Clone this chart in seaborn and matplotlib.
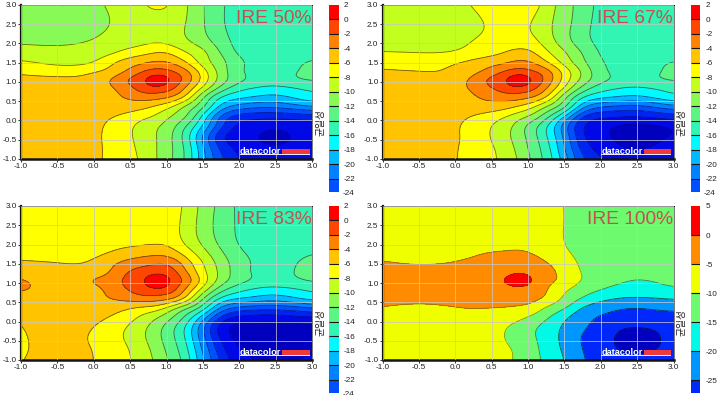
import numpy as np
import matplotlib
matplotlib.use("Agg")
import matplotlib.pyplot as plt
from matplotlib.patches import Rectangle
import seaborn as sns

x_nodes = [-1, -0.5, 0, 0.25, 0.5, 0.7, 0.87, 1.05, 1.25, 1.5, 1.75, 2, 2.25, 2.45, 2.75, 3]
y_nodes = [3, 2.5, 2, 1.75, 1.5, 1.25, 1.05, 0.85, 0.6, 0.35, 0.1, -0.15, -0.4, -0.7, -1]

z_50 = [
    [-10.7, -10.8, -10.3, -9.7, -8.8, -8.0, -7.6, -8.0, -9.6, -11.9, -13.8, -14.6, -14.9, -15, -15, -15],
    [-10.8, -11.0, -10.6, -9.9, -9.3, -8.9, -8.8, -9.0, -9.9, -11.8, -13.8, -14.6, -15, -15.1, -15.1, -15],
    [-10.1, -10.2, -9.7, -9.2, -8.7, -8.2, -7.9, -8.3, -9.4, -10.8, -13, -14.6, -15, -15.1, -15, -14.9],
    [-8.9, -9.3, -9, -8.2, -7, -6.4, -5.8, -6.1, -7.7, -9.4, -12.1, -14.3, -14.9, -15, -14.8, -14.5],
    [-7.7, -8.4, -7.9, -6.2, -4.9, -4.1, -3.6, -4, -5.6, -8.9, -11.3, -13.6, -14.6, -14.9, -14.3, -13.8],
    [-6.2, -6.7, -6, -5.2, -3.2, -1.6, -0.7, -1.4, -3, -6.9, -10.9, -13.7, -14.6, -14.7, -14.1, -13.6],
    [-5.5, -5.5, -5.3, -3.7, -1.6, 0, 1.5, 0.1, -2.4, -6.7, -10.9, -13.5, -14.6, -14.8, -14.2, -13.8],
    [-5.2, -5.1, -5, -4.2, -2.4, -0.7, -0.3, -1.2, -3.9, -8.2, -12.6, -15.2, -16.1, -16.5, -16, -15.4],
    [-5, -4.9, -4.8, -4.4, -3.7, -3.1, -3.3, -4, -6.2, -11.8, -16.2, -17.6, -18.3, -18.6, -17.8, -16.8],
    [-5, -4.9, -4.9, -4.9, -5.1, -5.6, -6.5, -7.8, -10.4, -13.6, -18.8, -21, -21.7, -21.8, -21, -20.2],
    [-5.1, -5, -5.3, -5.9, -6.8, -7.6, -8.4, -10, -11.6, -16.5, -22.4, -24.9, -25.4, -25.5, -25.3, -25],
    [-5.3, -5.2, -5.5, -6.5, -7.7, -8.9, -9.8, -11.1, -13.7, -18.2, -23.6, -26.5, -27.1, -27.4, -27.1, -26.8],
    [-5.3, -5.2, -5.6, -6.6, -7.8, -9, -10, -11.6, -14.6, -20.2, -25.5, -27.2, -27.9, -28.8, -27.8, -27.2],
    [-5.4, -5.2, -5.6, -6.5, -7.6, -8.8, -10, -11.6, -14.1, -19.7, -24.6, -26.6, -27.4, -27.7, -27.4, -27],
    [-5.4, -5.3, -5.6, -6.5, -7.4, -8.6, -10, -11.7, -14, -19.3, -23.6, -26, -26.8, -27, -26.9, -26.6],
]

z_67 = [
    [-8.5, -8.6, -8.3, -7.9, -7.2, -6.8, -6.7, -7, -8.8, -11, -13, -14.5, -14.9, -15, -15, -15],
    [-8.7, -8.8, -8.6, -8.3, -7.8, -7.6, -7.6, -8, -9.4, -11.2, -13.3, -14.6, -15, -15.1, -15.1, -15],
    [-8.4, -8.5, -8.3, -7.9, -7.4, -7, -6.8, -7.1, -8.7, -10.9, -13.1, -14.5, -15, -15.1, -15, -14.8],
    [-7.9, -8, -7.8, -7.2, -6.5, -5.8, -5.2, -5.6, -7.5, -9.7, -12.1, -14.2, -14.9, -15, -14.9, -14.5],
    [-6.7, -6.8, -6.1, -5.4, -4.7, -4.1, -3.5, -3.9, -5.6, -8.7, -11.5, -13.8, -14.6, -14.9, -14.3, -13.9],
    [-5.7, -5.9, -5.6, -4.5, -2.9, -1.5, -0.6, -1.4, -2.9, -6.6, -10.3, -13.4, -14.5, -14.8, -14.2, -13.6],
    [-5.4, -5.4, -5.1, -3.3, -1.4, 0.1, 1.6, 0.2, -2.5, -6.8, -10.7, -13.4, -14.4, -14.7, -14.2, -13.8],
    [-5.1, -5.1, -4.7, -3.6, -2, -0.7, -0.2, -1.2, -3.7, -8, -12.6, -15, -15.9, -16.2, -15.8, -15.2],
    [-5, -4.9, -4.7, -4.2, -3.5, -3, -3.2, -3.9, -6, -11.4, -16, -17.6, -18.2, -18.5, -17.6, -16.6],
    [-5, -4.9, -4.8, -4.7, -4.9, -5.4, -6.3, -7.6, -10.2, -13.6, -19.5, -22, -22.6, -22.9, -21.9, -20.8],
    [-5.2, -5.1, -5.3, -6.2, -7.1, -8, -9.2, -10.5, -13.3, -18, -24, -25.6, -25.9, -26, -25.6, -25],
    [-5.3, -5.2, -5.7, -6.9, -8, -9.2, -10.9, -13, -15.7, -21, -25.9, -27.3, -28.2, -28.5, -28.3, -27.6],
    [-5.3, -5.2, -5.7, -6.9, -8.1, -9.5, -11, -13, -15.8, -20.5, -25.8, -27.4, -28.5, -28.8, -28.5, -27.8],
    [-5.4, -5.3, -5.8, -6.9, -7.8, -9, -10.6, -12.6, -15.1, -19.9, -24.8, -26.8, -27.8, -28.2, -27.8, -27],
    [-5.4, -5.3, -5.9, -6.8, -7.6, -8.8, -10.1, -12.2, -14.6, -19, -23.6, -25.8, -26.6, -27, -26.7, -26.3],
]

z_83 = [
    [-6.8, -6.8, -6.7, -6.6, -6.5, -6.4, -6.4, -6.8, -8.3, -10.6, -12.7, -14.4, -14.8, -14.9, -14.9, -14.9],
    [-6.9, -7, -6.9, -6.8, -6.7, -6.6, -6.6, -7, -8.6, -10.8, -12.9, -14.3, -14.8, -14.9, -14.9, -14.8],
    [-6.8, -6.9, -6.8, -6.5, -6.3, -6.1, -6, -6.3, -8, -10.2, -12.4, -14.1, -14.7, -14.8, -14.7, -14.4],
    [-6.5, -6.7, -6.4, -5.7, -4.9, -4.5, -4.3, -4.7, -6.4, -9.1, -11.6, -13.6, -14.5, -14.8, -14.4, -14],
    [-5.7, -5.9, -5.6, -4.3, -3.1, -2.5, -2, -2.3, -4.6, -7.9, -10.9, -13.1, -14.4, -14.8, -14.1, -13.5],
    [-4.9, -5.2, -4.8, -3.7, -1.6, -0.7, -0.1, -0.8, -3.3, -7.3, -10.6, -13.2, -14.3, -14.5, -14, -13.3],
    [-3.6, -5, -3.8, -2.9, -1.2, 0, 1.9, 0.1, -2.3, -6.8, -11, -13.3, -14.4, -14.7, -14.4, -13.8],
    [-3.6, -5, -4.6, -3.2, -1.7, -0.6, 0, -0.8, -3.8, -8.5, -13, -15.2, -16.2, -16.5, -16.1, -15.5],
    [-4.9, -4.9, -4.6, -3.9, -3.2, -2.7, -2.9, -3.5, -6, -11.8, -16.4, -17.9, -18.6, -19, -18.2, -17.2],
    [-5, -5, -4.9, -5.2, -5.9, -6.5, -7, -8.9, -11.5, -15, -20.5, -22.6, -23.2, -23.3, -22.8, -22],
    [-5.8, -5.1, -5.5, -6.2, -7.4, -8.7, -9.9, -11.6, -14.3, -19, -24.6, -26.6, -26.9, -27, -26.6, -26.3],
    [-6.1, -5.2, -6, -7, -8.3, -9.7, -11.2, -13.2, -15.9, -21.5, -27, -28.6, -28.8, -28.9, -28.7, -28.4],
    [-6.3, -5.2, -6.3, -7.3, -8.5, -9.9, -11.4, -13.3, -15.9, -21.4, -26.5, -28.7, -29, -29.1, -29, -28.8],
    [-6.3, -5.3, -6.1, -7, -8.1, -9.4, -10.9, -12.8, -15.2, -20.4, -25.4, -28, -28.7, -28.8, -28.7, -28.4],
    [-6.1, -5.3, -6, -6.9, -7.9, -9.2, -10.4, -12.3, -14.6, -19.6, -24.4, -27.2, -28, -28.2, -28, -27.6],
]

z_100 = [
    [-7.2, -7.1, -7, -7, -7, -7, -7.2, -7.6, -8.8, -10, -11.9, -12.6, -13, -13.1, -13.1, -13.1],
    [-7.4, -7.4, -7.3, -7.2, -7.1, -7, -7.1, -7.4, -8.7, -10, -12, -12.7, -13, -13.2, -13.2, -13.1],
    [-6.8, -6.8, -6.7, -6.4, -6, -5.6, -5.5, -5.9, -7.5, -9.9, -11.9, -12.5, -12.8, -12.9, -12.9, -12.8],
    [-5.9, -6, -5.9, -5.3, -4.7, -4.6, -4.5, -4.9, -6.4, -9, -11.4, -12.3, -12.6, -12.7, -12.7, -12.6],
    [-4.6, -5.2, -4.7, -4.1, -3.4, -2.8, -2.6, -3, -4.6, -7.6, -10.8, -12, -12.4, -12.5, -12.5, -12.4],
    [-3.3, -3.4, -3.3, -2.8, -2, -0.9, 0.2, -1, -3.1, -6.6, -10.3, -12.4, -13.5, -13.8, -13.2, -12.9],
    [-3.1, -3.1, -3, -2.5, -1.4, 0.5, 2.4, 0.4, -3.6, -6.2, -10.4, -12.6, -14.2, -15.2, -14.8, -13.5],
    [-3.4, -3.7, -3.4, -3, -2.2, -1.4, -0.9, -1.8, -4.7, -8.8, -12.6, -14.6, -16.6, -17, -16.4, -15.6],
    [-4.3, -4.5, -4.2, -3.9, -3.5, -3.2, -3.3, -3.8, -5.6, -11, -15.3, -18.4, -20, -20.4, -20.1, -19.4],
    [-5.1, -5.4, -5.1, -4.9, -5, -5.2, -5.6, -6.6, -10.7, -14.5, -20.4, -23.2, -24.6, -25.1, -24.6, -24.2],
    [-6.2, -6.3, -6.1, -6.2, -6.8, -7.7, -8.9, -11, -14.3, -19, -23.5, -25.4, -26.6, -27, -26.6, -26.2],
    [-7, -7.1, -6.9, -7.1, -7.8, -9.8, -11.8, -14, -16.7, -20.9, -24.4, -26.7, -29.4, -30.1, -29.5, -28.5],
    [-7.4, -7.5, -7.3, -7.4, -8.1, -10.3, -12.6, -14.3, -16.9, -21.5, -25.3, -28, -30.6, -31.4, -30.4, -28.9],
    [-7.4, -7.5, -7.3, -7.4, -8, -9.3, -11.1, -13.6, -16.5, -21, -25.1, -27.7, -30.3, -30.9, -30.2, -28.7],
    [-7.3, -7.4, -7.2, -7.3, -7.8, -9, -11, -13.3, -16, -20, -24.6, -26.8, -28.4, -28.9, -28.2, -27.4],
]

levels_fine = list(range(-30, 4, 2))
colors_fine = ["#0000be", "#0008e8", "#0024f0", "#0050ff", "#0082ff", "#00b9ff", "#00faff", "#32f5b4",
               "#5af582", "#87fa55", "#c3ff1e", "#ffff00", "#ffc300", "#ff8200", "#ff4600", "#ff0000"]
lines_fine = ["#00006e"] * 7 + ["#203040"] * 3 + ["#303010"] * 7
levels_coarse = list(range(-35, 10, 5))
colors_coarse = ["#0000be", "#0028fa", "#0096ff", "#00fae6", "#6efa6e", "#f0ff00", "#ff8c00", "#ff0000"]
lines_coarse = ["none"] * 4 + ["#205040", "#407020", "#606010", "#703010", "#703010"]
tick_labels = [-1.0, -0.5, 0.0, 0.5, 1.0, 1.5, 2.0, 2.5, 3.0]

sns.set_style("white")
plt.rcParams["font.family"] = ["Liberation Sans", "Noto Sans CJK KR"]

W, H = 720, 395
fig = plt.figure(figsize=(7.2, 3.95), dpi=100)


def box(left, top, right, bottom):
    return [left / W, 1 - bottom / H, (right - left) / W, (bottom - top) / H]


# natural cubic spline along the first axis, only used to draw round contours
def spline(nodes, vals, out):
    t = np.asarray(nodes, float)
    h = np.diff(t)
    n = len(t)
    A = np.zeros((n, n))
    b = np.zeros((n, vals.shape[1]))
    A[0, 0] = A[-1, -1] = 1
    for i in range(1, n - 1):
        A[i, i - 1], A[i, i], A[i, i + 1] = h[i - 1], 2 * (h[i - 1] + h[i]), h[i]
        b[i] = 6 * ((vals[i + 1] - vals[i]) / h[i] - (vals[i] - vals[i - 1]) / h[i - 1])
    m = np.linalg.solve(A, b)
    k = np.clip(np.searchsorted(t, out) - 1, 0, n - 2)
    u = ((t[k + 1] - out) / h[k])[:, None]
    v = ((out - t[k]) / h[k])[:, None]
    hk = h[k][:, None]
    return u * vals[k] + v * vals[k + 1] + ((u**3 - u) * m[k] + (v**3 - v) * m[k + 1]) * hk**2 / 6


def soften(a, size=13):
    kernel = np.exp(-0.5 * (np.arange(-size, size + 1) / (size / 2)) ** 2)
    kernel /= kernel.sum()
    for axis in (0, 1):
        pad = [(size, size) if i == axis else (0, 0) for i in (0, 1)]
        a = np.apply_along_axis(lambda r: np.convolve(r, kernel, mode="valid"), axis, np.pad(a, pad, mode="edge"))
    return a


def panel(z, title, levels, colors, line_colors, left, top, cbar_ticks, cbar_low, cut_label):
    right, bottom = left + 291, top + 154
    ax = fig.add_axes(box(left, top, right, bottom))
    gx = np.linspace(-1, 3, 321)
    gy = np.linspace(-1, 3, 321)
    rows = np.array(z, float)[::-1]
    zg = spline(y_nodes[::-1], rows, gy)
    zg = spline(x_nodes, zg.T, gx).T
    zg = soften(zg)
    pal = sns.color_palette(colors)
    cf = ax.contourf(gx, gy, zg, levels=levels, colors=pal)
    ax.contour(gx, gy, zg, levels=levels, colors=line_colors, linewidths=0.6, alpha=0.7, linestyles="solid")
    ax.set_xlim(-1, 3)
    ax.set_ylim(-1, 3)
    ax.set_xticks(tick_labels, [f"{t:.1f}" for t in tick_labels])
    ax.set_yticks(tick_labels, [f"{t:.1f}" for t in tick_labels])
    ax.tick_params(length=2, width=0.7, pad=1, labelsize=5.9, color="#333333", labelcolor="#222222",
                   bottom=True, left=True)
    ax.grid(True, color="#c8c8c8", linewidth=0.7, alpha=0.75)
    ax.set_axisbelow(False)
    for side, lw in [("left", 1.6), ("bottom", 1.8), ("top", 0.7), ("right", 0.4)]:
        ax.spines[side].set_linewidth(lw)
        ax.spines[side].set_color("#111111")

    ax.text(0.998, 0.883, title, transform=ax.transAxes, ha="right", va="baseline",
            fontsize=13.8, color="#c4504f", zorder=6)
    ax.text(0.752, 0.034, "datacolor", transform=ax.transAxes, ha="left", va="baseline",
            fontsize=6.6, fontweight="bold", color="white", zorder=6)
    ax.add_patch(Rectangle((0.898, 0.032), 0.095, 0.035, transform=ax.transAxes,
                           color="#ee3a3a", zorder=6, lw=0))
    ax.add_patch(Rectangle((0.752, 0.024), 0.241, 0.007, transform=ax.transAxes,
                           color="#e8e8f8", zorder=6, lw=0))

    cax = fig.add_axes(box(right + 17, top, right + 26.5, top + 187))
    cb = fig.colorbar(cf, cax=cax, ticks=cbar_ticks)
    cb.outline.set_visible(False)
    cax.set_ylim(cbar_low, levels[-1])
    cax.tick_params(length=0, pad=4, labelsize=5.9, labelcolor="#222222")
    cax.set_yticks(cbar_ticks, [str(t) for t in cbar_ticks])
    cax.hlines([l for l in levels if cbar_low < l < levels[-1]], 0, 1, transform=cax.get_yaxis_transform(),
               colors="#151515", linewidth=0.8)
    if cut_label is not None:
        t = cax.text(1.42, cut_label, str(cut_label), transform=cax.get_yaxis_transform(),
                     ha="left", va="center", fontsize=5.9, color="#222222")
        t.set_clip_path(Rectangle((right, H - (top + 188)), 60, 10, transform=None))
    fig.text((right + 8.5) / W, 1 - (top + 117) / H, "균일성", rotation=90, ha="center", va="center",
             fontsize=7, color="#222222", family=["Noto Sans CJK KR", "Liberation Sans"])


fine_ticks = list(range(2, -24, -2))
panel(z_50, "IRE 50%", levels_fine, colors_fine, lines_fine, 21, 5, fine_ticks, -23.8, -24)
panel(z_67, "IRE 67%", levels_fine, colors_fine, lines_fine, 382.5, 5, fine_ticks, -23.8, -24)
panel(z_83, "IRE 83%", levels_fine, colors_fine, lines_fine, 21, 206, fine_ticks, -23.8, -24)
panel(z_100, "IRE 100%", levels_coarse, colors_coarse, lines_coarse, 382.5, 206,
      [5, 0, -5, -10, -15, -20, -25], -27.2, None)

fig.savefig("out.png", dpi=100)
